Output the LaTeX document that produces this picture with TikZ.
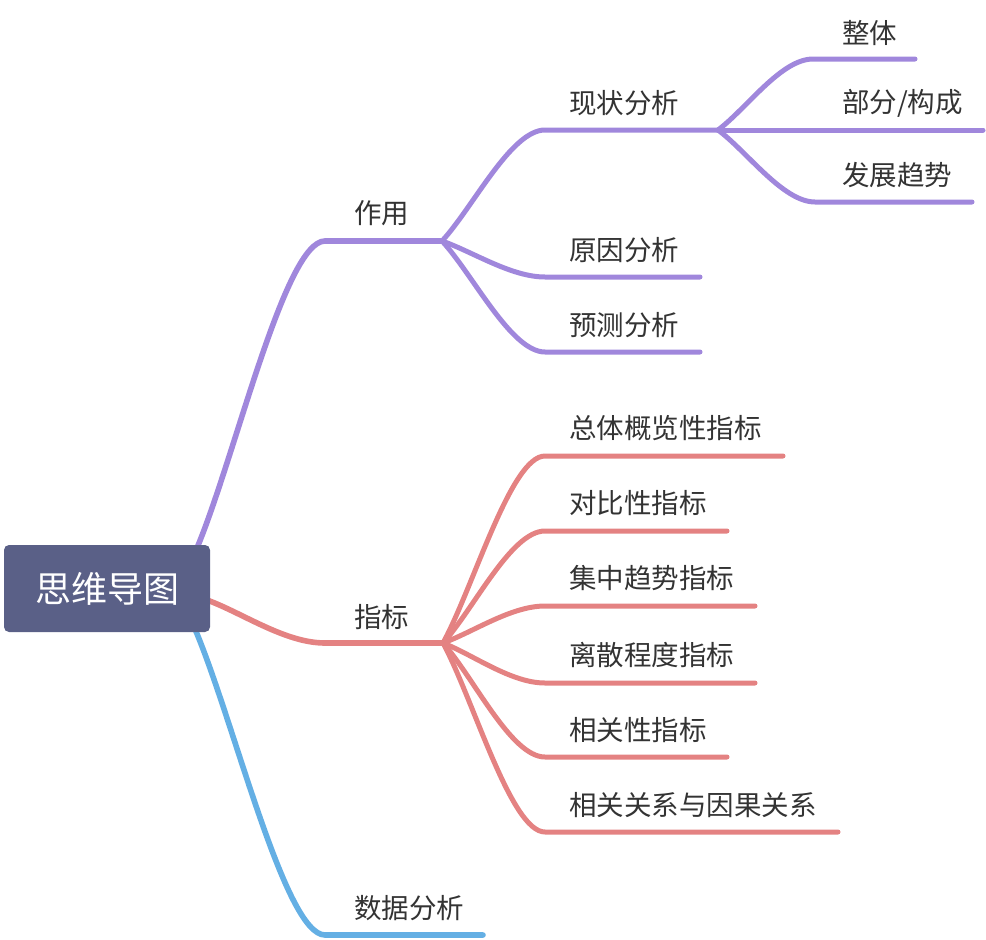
\documentclass[tikz,border=0pt]{standalone}
\usepackage{fontspec}
\setmainfont{Noto Sans CJK SC}
\usetikzlibrary{calc}
\definecolor{cpurple}{RGB}{160,135,220}
\definecolor{cred}{RGB}{228,130,130}
\definecolor{cblue}{RGB}{100,175,228}
\definecolor{croot}{RGB}{90,96,135}
\definecolor{ctext}{RGB}{51,51,51}
\tikzset{
  mm/.style={to path={.. controls ($(\tikztostart)!0.3!(\tikztotarget)$) and ($(\tikztotarget)+(-#1,0)$) .. (\tikztotarget)}},
  mainline/.style={line width=5.6pt, line cap=round},
  subline/.style={line width=5pt, line cap=round},
  lbl/.style={anchor=west, inner sep=0pt, text=ctext, font=\fontsize{27.5}{32}\selectfont},
  rootbox/.style={fill=croot, rounded corners=5pt, minimum width=206pt, minimum height=87pt, inner sep=0pt, text=white, font=\fontsize{36}{42}\selectfont}
}
\begin{document}
\begin{tikzpicture}[x=1pt,y=-1pt]
\useasboundingbox (0,0) rectangle (986,940);
% coordinates of connectors
\coordinate (rP) at (197,548);
\coordinate (rR) at (207,600);
\coordinate (rB) at (195,629);
\coordinate (pB) at (325,241);
\coordinate (pJ) at (442,241);
\coordinate (p1a) at (545,130); \coordinate (p1J) at (718,130);
\coordinate (p2a) at (545,277); \coordinate (p2b) at (700,277);
\coordinate (p3a) at (545,352); \coordinate (p3b) at (700,352);
\coordinate (q1a) at (813,59); \coordinate (q1b) at (915,59);
\coordinate (q2b) at (983,130);
\coordinate (q3a) at (815,202); \coordinate (q3b) at (972,202);
\coordinate (rRa) at (325,643);
\coordinate (rJ) at (443,643);
\coordinate (r1a) at (545,456); \coordinate (r1b) at (783,456);
\coordinate (r2a) at (545,531); \coordinate (r2b) at (727,531);
\coordinate (r3a) at (545,606); \coordinate (r3b) at (755,606);
\coordinate (r4a) at (545,683); \coordinate (r4b) at (755,683);
\coordinate (r5a) at (545,757); \coordinate (r5b) at (727,757);
\coordinate (r6a) at (545,832); \coordinate (r6b) at (838,832);
\coordinate (bBa) at (325,935); \coordinate (bBb) at (483,935);
% purple
\draw[cpurple, mainline] (rP) to[mm=40] (pB) -- (pJ);
\draw[cpurple, subline] (pJ) to[mm=34] (p1a) -- (p1J);
\draw[cpurple, subline] (pJ) to[mm=34] (p2a) -- (p2b);
\draw[cpurple, subline] (pJ) to[mm=34] (p3a) -- (p3b);
\draw[cpurple, subline] (p1J) to[mm=32] (q1a) -- (q1b);
\draw[cpurple, subline] (p1J) -- (q2b);
\draw[cpurple, subline] (p1J) to[mm=32] (q3a) -- (q3b);
% red
\draw[cred, mainline] (rR) to[mm=40] (rRa) -- (rJ);
\foreach \i in {1,...,6} {
  \draw[cred, subline] (rJ) to[mm=34] (r\i a) -- (r\i b);
}
% blue
\draw[cblue, mainline] (rB) to[mm=40] (bBa) -- (bBb);
% root
\node[rootbox] (root) at (107,588.5) {思维导图};
% labels
\node[lbl] (t1) at (354,213) {作用};
\node[lbl] (t11) at (569,103) {现状分析};
\node[lbl] (t12) at (569,250) {原因分析};
\node[lbl] (t13) at (569,325) {预测分析};
\node[lbl] (t111) at (842,33) {整体};
\node[lbl] (t112) at (842,103) {部分/构成};
\node[lbl] (t113) at (842,175) {发展趋势};
\node[lbl] (t2) at (354,617) {指标};
\node[lbl] (t21) at (569,428) {总体概览性指标};
\node[lbl] (t22) at (569,503) {对比性指标};
\node[lbl] (t23) at (569,578) {集中趋势指标};
\node[lbl] (t24) at (569,655) {离散程度指标};
\node[lbl] (t25) at (569,730) {相关性指标};
\node[lbl] (t26) at (569,805) {相关关系与因果关系};
\node[lbl] (t3) at (354,908) {数据分析};
\end{tikzpicture}
\end{document}
